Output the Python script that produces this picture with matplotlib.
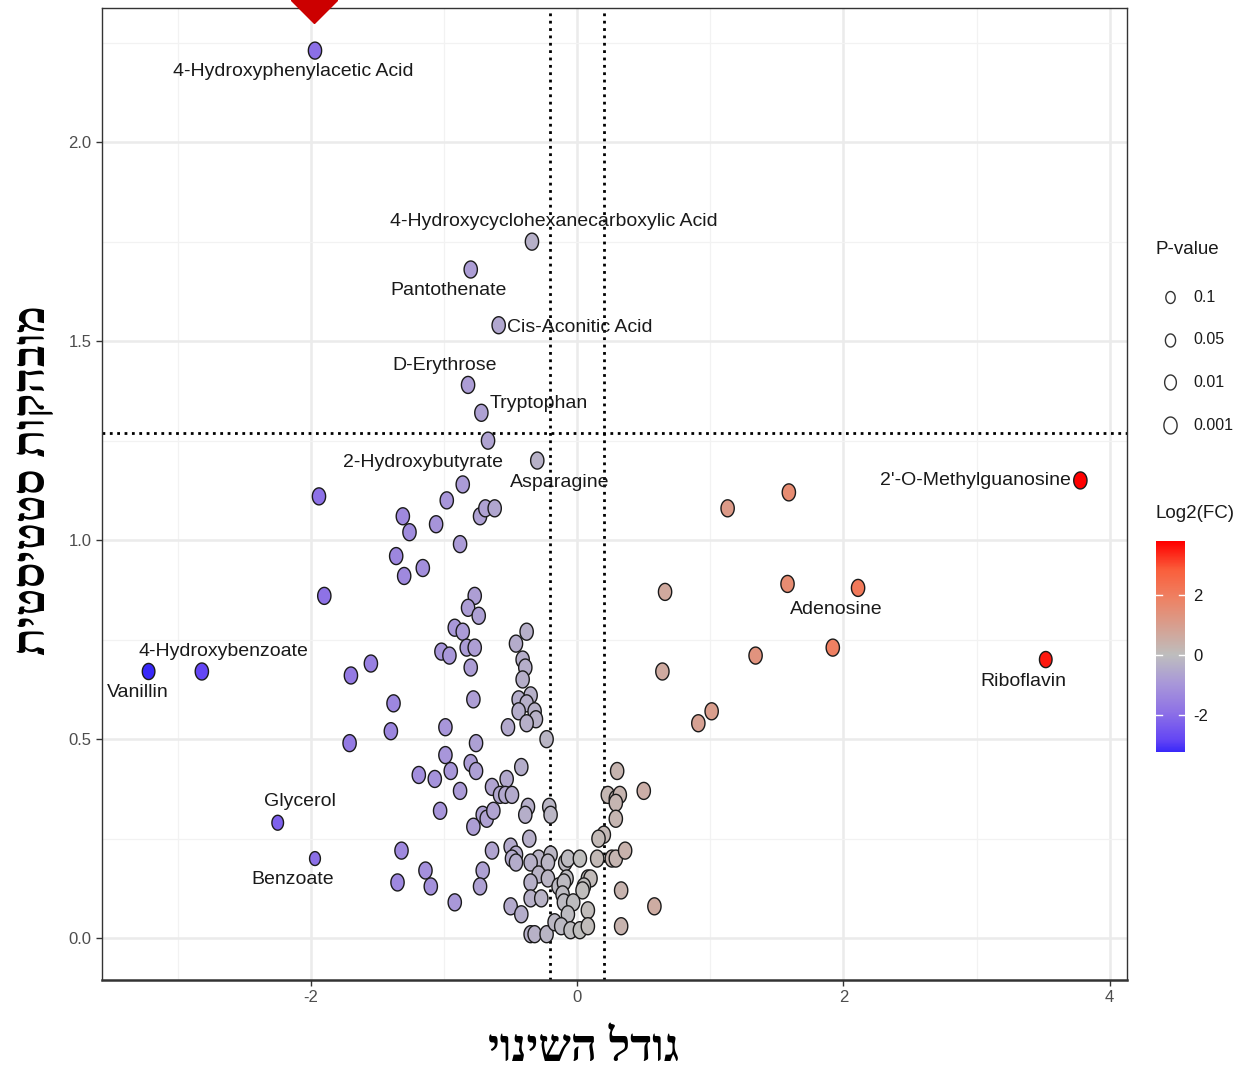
import numpy as np
import matplotlib
matplotlib.use("Agg")
import matplotlib.pyplot as plt
from matplotlib.colors import LinearSegmentedColormap, Normalize
from matplotlib.path import Path

plt.rcParams["axes.unicode_minus"] = False

# labelled metabolites: log2 fold change and significance
label_names = ["4-Hydroxyphenylacetic Acid", "4-Hydroxycyclohexanecarboxylic Acid",
               "Pantothenate", "Cis-Aconitic Acid", "D-Erythrose", "Tryptophan",
               "2-Hydroxybutyrate", "Asparagine", "2'-O-Methylguanosine", "Adenosine",
               "Riboflavin", "4-Hydroxybenzoate", "Vanillin", "Glycerol", "Benzoate"]
label_fc = [-1.97, -0.34, -0.80, -0.59, -0.82, -0.72, -0.86, -0.30, 3.78, 2.11,
            3.52, -2.82, -3.22, -2.25, -1.97]
label_sig = [2.23, 1.75, 1.68, 1.54, 1.39, 1.32, 1.14, 1.20, 1.15, 0.88,
             0.70, 0.67, 0.67, 0.29, 0.20]

# all other metabolites
other_fc = [-0.67, -1.94, -0.98, 1.59, -1.31, -1.26, -1.06, -0.88, -1.36, -1.30,
            -1.16, -0.73, -0.69, -0.62, 1.13, -1.90, 0.66, 1.58, -0.77, -0.82,
            -0.74, -0.92, -0.86, -1.02, -0.96, -0.83, -0.77, -0.38, -0.46, -0.41,
            -0.39, -0.80, -0.41, -1.70, -1.55, 1.92, 1.34, 0.64, -1.38, -0.78,
            -0.35, -0.44, -0.38, -0.44, -0.32, -0.31, -0.38, -0.52, -1.40, -0.99,
            -0.76, -0.23, -1.71, -0.99, -0.95, -0.80, -0.76, -1.19, -1.07, -0.42,
            -0.53, -0.88, -0.64, -0.58, -0.54, -0.49, 0.30, 0.23, 0.29, 0.50,
            0.32, 1.01, 0.91, 0.29, -0.21, -0.20, -0.37, -0.39, -1.03, -0.71,
            -0.68, -0.63, 0.29, -0.78, -0.36, 0.20, 0.16, -1.32, -0.64, -0.50,
            -0.46, -0.49, -0.46, -0.29, -0.35, -0.20, -0.22, -0.09, -0.07, 0.02,
            0.15, 0.26, 0.29, 0.36, -1.14, -0.71, -0.29, -0.22, -0.14, -0.08,
            -0.10, 0.08, 0.10, 0.05, 0.04, -1.35, -1.10, -0.73, -0.35, 0.33,
            0.58, -0.92, -0.35, -0.27, -0.11, -0.10, -0.03, -0.50, -0.42, 0.08,
            -0.07, 0.33, -0.35, -0.32, -0.23, -0.17, -0.12, -0.05, 0.02, 0.08]
other_sig = [1.25, 1.11, 1.10, 1.12, 1.06, 1.02, 1.04, 0.99, 0.96, 0.91,
             0.93, 1.06, 1.08, 1.08, 1.08, 0.86, 0.87, 0.89, 0.86, 0.83,
             0.81, 0.78, 0.77, 0.72, 0.71, 0.73, 0.73, 0.77, 0.74, 0.70,
             0.68, 0.68, 0.65, 0.66, 0.69, 0.73, 0.71, 0.67, 0.59, 0.60,
             0.61, 0.60, 0.59, 0.57, 0.57, 0.55, 0.54, 0.53, 0.52, 0.53,
             0.49, 0.50, 0.49, 0.46, 0.42, 0.44, 0.42, 0.41, 0.40, 0.43,
             0.40, 0.37, 0.38, 0.36, 0.36, 0.36, 0.42, 0.36, 0.35, 0.37,
             0.36, 0.57, 0.54, 0.34, 0.33, 0.31, 0.33, 0.31, 0.32, 0.31,
             0.30, 0.32, 0.30, 0.28, 0.25, 0.26, 0.25, 0.22, 0.22, 0.23,
             0.21, 0.20, 0.19, 0.20, 0.19, 0.21, 0.19, 0.19, 0.20, 0.20,
             0.20, 0.20, 0.20, 0.22, 0.17, 0.17, 0.16, 0.15, 0.13, 0.15,
             0.14, 0.15, 0.15, 0.13, 0.12, 0.14, 0.13, 0.13, 0.14, 0.12,
             0.08, 0.09, 0.10, 0.10, 0.11, 0.09, 0.09, 0.08, 0.06, 0.07,
             0.06, 0.03, 0.01, 0.01, 0.01, 0.04, 0.03, 0.02, 0.02, 0.03]

fc_cutoff = 0.2016
sig_cutoff = 1.269

pval_levels = ["0.1", "0.05", "0.01", "0.001"]
cbar_ticks = [-2, 0, 2]

x_title = "גודל השינוי"
y_title = "מובהקות סטטיסטית"

# label placement: pixel offset from the point and horizontal anchor
label_offsets = {
    "4-Hydroxyphenylacetic Acid": (-22, -21, "center"),
    "4-Hydroxycyclohexanecarboxylic Acid": (22, 20, "center"),
    "Pantothenate": (-22, -21, "center"),
    "Cis-Aconitic Acid": (8, -2, "left"),
    "D-Erythrose": (-23, 19, "center"),
    "Tryptophan": (8, 9, "left"),
    "2-Hydroxybutyrate": (-40, 22, "center"),
    "Asparagine": (22, -22, "center"),
    "2'-O-Methylguanosine": (-9, 0, "right"),
    "Adenosine": (-22, -22, "center"),
    "Riboflavin": (-22, -22, "center"),
    "4-Hydroxybenzoate": (22, 20, "center"),
    "Vanillin": (-11, -21, "center"),
    "Glycerol": (22, 21, "center"),
    "Benzoate": (-22, -21, "center"),
}
small_points = {"Glycerol": 115, "Benzoate": 100, "Vanillin": 135, "Riboflavin": 135}

sans = ["Liberation Sans Narrow", "Liberation Sans", "DejaVu Sans"]
hebrew = ["Liberation Serif", "DejaVu Sans"]

# blue -> grey -> red, symmetric around 0
cmap = LinearSegmentedColormap.from_list("fc", [
    (0.0, "#0000FF"), (0.125, "#6446F5"), (0.25, "#8F73E6"), (0.375, "#A998D9"),
    (0.5, "#BEBEBE"), (0.625, "#D7A091"), (0.75, "#EE8264"), (0.875, "#FA5F3C"),
    (1.0, "#FF0000")])
fc_all = np.array(other_fc + label_fc)
lim = np.abs(fc_all).max()
norm = Normalize(-lim, lim)

# slightly tall ellipse marker
t = np.linspace(0, 2 * np.pi, 60)
oval = Path(np.column_stack([0.78 * np.cos(t), np.sin(t)]), closed=True)

fig = plt.figure(figsize=(12.38, 10.69), dpi=100)
ax = fig.add_axes([0.0824, 0.0833, 0.8279, 0.9092])

ax.set_xlim(-3.57, 4.13)
ax.set_ylim(-0.105, 2.337)
ax.set_xticks([-2, 0, 2, 4])
ax.set_yticks([0.0, 0.5, 1.0, 1.5, 2.0])
ax.set_yticklabels(["0.0", "0.5", "1.0", "1.5", "2.0"])
ax.set_xticks([-3, -1, 1, 3], minor=True)
ax.set_yticks([0.25, 0.75, 1.25, 1.75, 2.25], minor=True)
ax.grid(which="major", color="#EBEBEB", lw=1.8, zorder=0)
ax.grid(which="minor", color="#F2F2F2", lw=0.9, zorder=0)
ax.set_axisbelow(True)
ax.tick_params(which="minor", length=0)
ax.tick_params(which="major", length=4, width=1.0, color="#333333",
               labelcolor="#4D4D4D", labelsize=12)
for lab in ax.get_xticklabels() + ax.get_yticklabels():
    lab.set_family(sans)
for s in ax.spines.values():
    s.set_color("#333333")
    s.set_linewidth(1.0)
ax.spines["bottom"].set_linewidth(1.8)

ax.axhline(sig_cutoff, color="black", ls=":", lw=2.0, zorder=1)
ax.axvline(-fc_cutoff, color="black", ls=":", lw=2.0, zorder=1)
ax.axvline(fc_cutoff, color="black", ls=":", lw=2.0, zorder=1)

ax.scatter(other_fc, other_sig, s=150, marker=oval, c=cmap(norm(np.array(other_fc))),
           edgecolors="#1a1a1a", linewidths=1.0, zorder=3)
sizes = [small_points.get(n, 150) for n in label_names]
ax.scatter(label_fc, label_sig, s=sizes, marker=oval, c=cmap(norm(np.array(label_fc))),
           edgecolors="#1a1a1a", linewidths=1.0, zorder=3)

for name, fx, fy in zip(label_names, label_fc, label_sig):
    dx, dy, ha = label_offsets[name]
    ax.annotate(name, (fx, fy), xytext=(dx, dy), textcoords="offset pixels",
                ha=ha, va="center", fontsize=14, color="#1a1a1a",
                family=sans, zorder=4)

# highlight marker sitting on top of the panel
ax.plot([label_fc[0] - 0.01], [2.357], marker="D", markersize=23.4, color="#CC0000",
        clip_on=False, zorder=6)

fig.text(0.471, 0.018, x_title[::-1], ha="center", va="center", fontsize=33,
         family=hebrew, fontweight="bold")
fig.text(0.0275, 0.551, y_title[::-1], ha="center", va="center", rotation=90,
         fontsize=33, family=hebrew, fontweight="bold")

# P-value size legend
fig.text(1187 / 1238, 1 - 249 / 1069, "P-value", ha="center", va="center",
         fontsize=13.5, family=sans, color="#1a1a1a")
leg = fig.add_axes([0, 0, 1, 1])
leg.set_xlim(0, 1238)
leg.set_ylim(1069, 0)
leg.axis("off")
leg_sizes = [8.6, 9.4, 10.8, 12.2]
for i, (lvl, ms) in enumerate(zip(pval_levels, leg_sizes)):
    yy = 297 + i * 42.7
    leg.plot([1170], [yy], marker=oval, markersize=ms, mfc="white", mec="#333333",
             mew=1.0, ls="none")
    leg.text(1193, yy, lvl, ha="left", va="center", fontsize=11.5, family=sans,
             color="#1a1a1a")

fig.text(1195 / 1238, 1 - 514 / 1069, "Log2(FC)", ha="center", va="center",
         fontsize=13.5, family=sans, color="#1a1a1a")

# colour bar for log2 fold change
cb_lo, cb_hi = fc_all.min(), fc_all.max()
cax = fig.add_axes([1156 / 1238, 1 - 752 / 1069, 29 / 1238, 211 / 1069])
grad = np.linspace(cb_lo, cb_hi, 300)[:, None]
cax.imshow(grad, extent=[0, 1, cb_lo, cb_hi], origin="lower", aspect="auto",
           cmap=cmap, norm=norm)
cax.set_xlim(0, 1)
cax.set_ylim(cb_lo, cb_hi)
for v in cbar_ticks:
    cax.plot([0, 0.2], [v, v], color="white", lw=1.0)
    cax.plot([0.8, 1], [v, v], color="white", lw=1.0)
cax.set_xticks([])
cax.yaxis.tick_right()
cax.set_yticks(cbar_ticks)
cax.set_yticklabels([str(v) for v in cbar_ticks])
cax.tick_params(axis="y", length=0, pad=6, labelsize=12, labelcolor="#1a1a1a")
for lab in cax.get_yticklabels():
    lab.set_family(sans)
for s in cax.spines.values():
    s.set_visible(False)

fig.savefig("out.png", dpi=100)
